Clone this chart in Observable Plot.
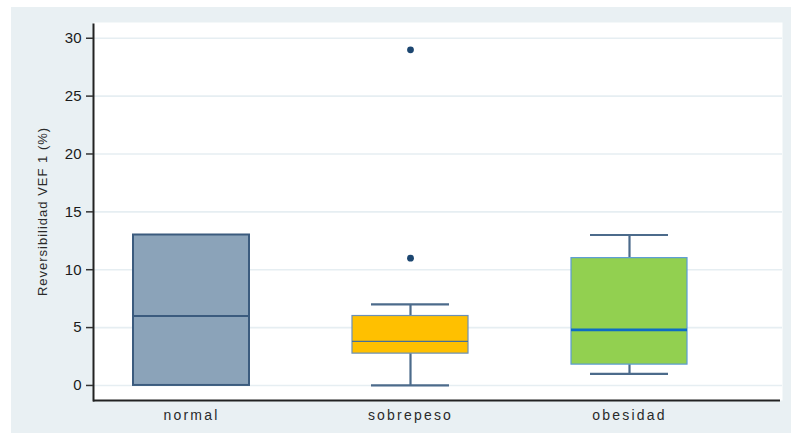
<!DOCTYPE html>
<html>
<head>
<meta charset="utf-8">
<script src="https://cdn.jsdelivr.net/npm/d3@7"></script>
<script src="https://cdn.jsdelivr.net/npm/@observablehq/plot@0.6"></script>
<style>
  html, body { margin: 0; padding: 0; background: #ffffff; }
  #chart svg { display: block; }
  #chart g[aria-label="x-axis tick label"] text { letter-spacing: 2.2px; }
  #chart g[aria-label="text"] text { letter-spacing: 1px; }
</style>
</head>
<body>
<div id="chart"></div>
<script>
// Reversibilidad VEF1 (%) por grupo de IMC: resumen de cada diagrama de caja
const categories   = ["normal", "sobrepeso", "obesidad"];
const q1           = [0, 2.75, 1.8];
const median       = [6, 3.8, 4.8];
const q3           = [13, 6, 11];
const whiskerLow   = [0, 0, 1];
const whiskerHigh  = [13, 7, 13];

// valores atípicos
const outlierCategory = ["sobrepeso", "sobrepeso"];
const outlierValue    = [11, 29];

const yTicks = [0, 5, 10, 15, 20, 25, 30];
const yLabel = "Reversibilidad VEF 1 (%)";

// estilos por grupo
const boxFill   = {normal: "#8ba3b9", sobrepeso: "#ffc000", obesidad: "#92d050"};
const boxStroke = {normal: "#3b5b7e", sobrepeso: "#6b90b6", obesidad: "#5b9bd5"};
const boxWidth  = {normal: 2, sobrepeso: 1.2, obesidad: 1.2};
const medStroke = {normal: "#3b5b7e", sobrepeso: "#46709a", obesidad: "#0d6cc4"};
const medWidth  = {normal: 2, sobrepeso: 1.3, obesidad: 2.6};
const whiskerColor = "#4c6b8b";

const boxes = categories.map((c, i) => ({
  cat: c, q1: q1[i], med: median[i], q3: q3[i], lo: whiskerLow[i], hi: whiskerHigh[i]
}));
const outliers = outlierCategory.map((c, i) => ({cat: c, v: outlierValue[i]}));

const font = "'Liberation Sans', Arial, sans-serif";

const chart = Plot.plot({
  width: 791,
  height: 435,
  marginLeft: 93,
  marginRight: 9,
  marginTop: 22,
  marginBottom: 35,
  style: {
    fontFamily: font,
    overflow: "visible",
    background: "linear-gradient(#e9f0f3, #e9f0f3) 11px 7px / 780px 426px no-repeat, #ffffff"
  },
  x: {type: "band", domain: categories, range: [82, 739], paddingInner: 0.47, paddingOuter: 0.235, axis: null},
  y: {domain: [-1.3, 31.36], axis: null},
  marks: [
    Plot.frame({fill: "#ffffff", stroke: "none"}),
    Plot.ruleY(yTicks, {stroke: "#e6eef2", strokeWidth: 1.6}),
    // bigotes
    Plot.ruleX(boxes.filter(d => d.hi > d.q3), {x: "cat", y1: "q3", y2: "hi", stroke: whiskerColor, strokeWidth: 2.2}),
    Plot.ruleX(boxes.filter(d => d.lo < d.q1), {x: "cat", y1: "lo", y2: "q1", stroke: whiskerColor, strokeWidth: 2.2}),
    Plot.tickY(boxes.filter(d => d.hi > d.q3), {x: "cat", y: "hi", stroke: whiskerColor, strokeWidth: 2.2, insetLeft: 19, insetRight: 19}),
    Plot.tickY(boxes.filter(d => d.lo < d.q1), {x: "cat", y: "lo", stroke: whiskerColor, strokeWidth: 2.2, insetLeft: 19, insetRight: 19}),
    // cajas
    Plot.barY(boxes, {
      x: "cat", y1: "q1", y2: "q3",
      fill: d => boxFill[d.cat],
      stroke: d => boxStroke[d.cat],
      strokeWidth: d => boxWidth[d.cat]
    }),
    // medianas
    Plot.tickY(boxes, {
      x: "cat", y: "med",
      stroke: d => medStroke[d.cat],
      strokeWidth: d => medWidth[d.cat]
    }),
    // atípicos
    Plot.dot(outliers, {x: "cat", y: "v", r: 3.4, fill: "#1c4670", stroke: "none"}),
    // ejes
    Plot.ruleY([-1.3], {stroke: "#222222", strokeWidth: 2, insetRight: 2}),
    Plot.frame({anchor: "left", stroke: "#222222", strokeWidth: 2, insetTop: 2}),
    Plot.axisY(yTicks, {
      tickSize: 7, tickPadding: 5, fontSize: 15, stroke: "#333333", strokeWidth: 1.5,
      fill: "#1a1a1a", label: null
    }),
    Plot.axisX({
      tickSize: 0, tickPadding: 10, fontSize: 14, fill: "#2a2a2a", label: null
    }),
    Plot.text([yLabel], {
      frameAnchor: "left", textAnchor: "middle", dx: -51, rotate: -90, fontSize: 13, fill: "#2a2a2a"
    })
  ]
});

document.getElementById("chart").appendChild(chart);
</script>
</body>
</html>
